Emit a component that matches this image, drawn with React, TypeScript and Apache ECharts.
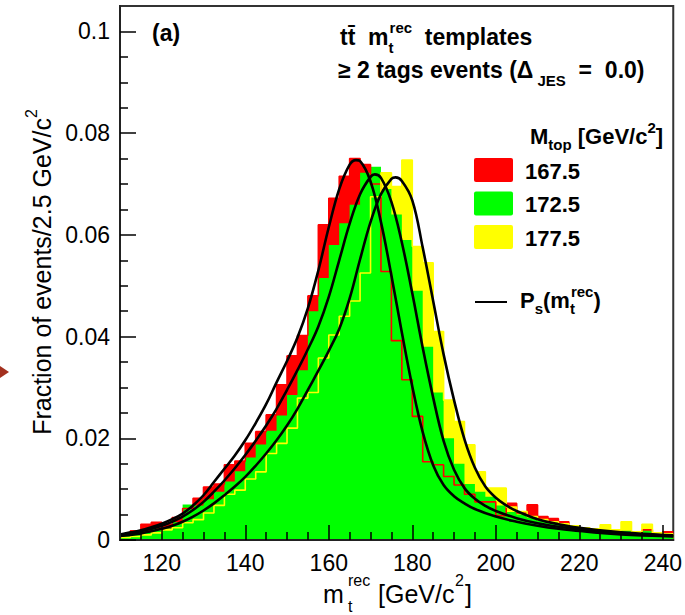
import { useEffect, useRef } from "react";
import * as echarts from "echarts";

// ---- data ----
const BIN_START = 110; // GeV/c^2, left edge of first bin
const BIN_WIDTH = 2.5; // GeV/c^2

// histogram bin contents (fraction of events per 2.5 GeV/c^2), bins from 110 to 242.5
const histRed167 = [
  0.0012, 0.0018, 0.0031, 0.0035, 0.003, 0.0044, 0.0062, 0.0082, 0.0104, 0.011,
  0.0148, 0.0155, 0.019, 0.0213, 0.0246, 0.0305, 0.0362, 0.0402, 0.048, 0.062,
  0.0672, 0.0715, 0.075, 0.0738, 0.07, 0.0528, 0.0392, 0.0315, 0.0243, 0.0154,
  0.0148, 0.0125, 0.0108, 0.009, 0.0075, 0.0075, 0.0048, 0.0072, 0.0053, 0.0069,
  0.0046, 0.0042, 0.0036, 0.002, 0.0022, 0.0018, 0.0015, 0.0014, 0.0012, 0.001,
  0.002, 0.0008, 0.0016,
];
const histGreen172 = [
  0.001, 0.0012, 0.0016, 0.0022, 0.0023, 0.0035, 0.007, 0.0068, 0.008, 0.0095,
  0.0115, 0.0135, 0.0162, 0.0188, 0.0215, 0.0245, 0.0285, 0.0334, 0.045, 0.0515,
  0.058, 0.0623, 0.0659, 0.0722, 0.0734, 0.069, 0.064, 0.059, 0.049, 0.038,
  0.029, 0.02, 0.015, 0.011, 0.0095, 0.0085, 0.0068, 0.0055, 0.005, 0.0045,
  0.0038, 0.0034, 0.003, 0.0026, 0.0022, 0.002, 0.0017, 0.0015, 0.0018, 0.0014,
  0.002, 0.0012, 0.001,
];
const histYellow177 = [
  0.0005, 0.0007, 0.001, 0.0014, 0.002, 0.0024, 0.0034, 0.004, 0.0053, 0.0068,
  0.009, 0.0098, 0.012, 0.0134, 0.017, 0.019, 0.022, 0.0279, 0.029, 0.0358,
  0.0403, 0.044, 0.047, 0.0525, 0.0675, 0.0722, 0.0695, 0.0747, 0.0577, 0.0545,
  0.041, 0.0275, 0.0233, 0.0187, 0.0134, 0.0102, 0.0102, 0.0065, 0.0056, 0.0046,
  0.004, 0.0036, 0.0032, 0.0028, 0.0024, 0.0022, 0.003, 0.002, 0.0036, 0.0016,
  0.0031, 0.0014, 0.0012,
];

// fitted signal probability densities P_s(m_t^rec)
const fitRed167: [number, number][] = [
  [110, 0.0011], [112.5, 0.0015], [115, 0.0019], [117.5, 0.0025], [120, 0.0032],
  [122.5, 0.0041], [125, 0.0052], [127.5, 0.0068], [130, 0.0088], [132.5, 0.0114],
  [135, 0.014], [137.5, 0.0166], [140, 0.0196], [142.5, 0.023], [145, 0.0267],
  [147.5, 0.031], [150, 0.0352], [152.5, 0.0398], [155, 0.0456], [157.5, 0.053],
  [160, 0.0615], [162.5, 0.069], [165, 0.0738], [166.5, 0.0747], [167.5, 0.0745],
  [170, 0.0705], [172.5, 0.0625], [175, 0.052], [177.5, 0.0408], [180, 0.0302],
  [182.5, 0.0212], [185, 0.0147], [187.5, 0.0108], [190, 0.0086], [192.5, 0.0072],
  [195, 0.0061], [200, 0.0046], [205, 0.0036], [210, 0.0028], [215, 0.0022],
  [220, 0.0018], [225, 0.0014], [230, 0.0011], [235, 0.0009], [242.5, 0.0007],
];
const fitGreen172: [number, number][] = [
  [110, 0.001], [112.5, 0.0013], [115, 0.0017], [117.5, 0.0022], [120, 0.0028],
  [122.5, 0.0036], [125, 0.0046], [127.5, 0.0059], [130, 0.0075], [132.5, 0.0095],
  [135, 0.0117], [137.5, 0.0141], [140, 0.0167], [142.5, 0.0195], [145, 0.0225],
  [147.5, 0.0258], [150, 0.0295], [152.5, 0.0334], [155, 0.0375], [157.5, 0.042],
  [160, 0.0478], [162.5, 0.055], [165, 0.0622], [167.5, 0.068], [170, 0.0714],
  [171, 0.0719], [172.5, 0.0712], [175, 0.0665], [177.5, 0.0585], [180, 0.0485],
  [182.5, 0.0378], [185, 0.028], [187.5, 0.0195], [190, 0.0138], [192.5, 0.0102],
  [195, 0.0081], [197.5, 0.0067], [200, 0.0057], [205, 0.0043], [210, 0.0033],
  [215, 0.0026], [220, 0.0021], [225, 0.0017], [230, 0.0013], [235, 0.0011],
  [242.5, 0.0008],
];
const fitYellow177: [number, number][] = [
  [110, 0.0008], [112.5, 0.001], [115, 0.0013], [117.5, 0.0017], [120, 0.0022],
  [122.5, 0.0028], [125, 0.0036], [127.5, 0.0046], [130, 0.0058], [132.5, 0.0072],
  [135, 0.0088], [137.5, 0.0105], [140, 0.0124], [142.5, 0.0146], [145, 0.017],
  [147.5, 0.0196], [150, 0.0225], [152.5, 0.0258], [155, 0.0295], [157.5, 0.0333],
  [160, 0.0372], [162.5, 0.0415], [165, 0.0475], [167.5, 0.0552], [170, 0.0625],
  [172.5, 0.068], [175, 0.071], [176, 0.0713], [177.5, 0.0706], [180, 0.0668],
  [182.5, 0.0575], [185, 0.047], [187.5, 0.0365], [190, 0.0275], [192.5, 0.0198],
  [195, 0.0142], [197.5, 0.0105], [200, 0.0083], [202.5, 0.0068], [205, 0.0057],
  [210, 0.0041], [215, 0.0031], [220, 0.0024], [225, 0.0019], [230, 0.0015],
  [235, 0.0012], [242.5, 0.0009],
];

const xMajorTicks = [120, 140, 160, 180, 200, 220, 240];
const xMinorTicks = [
  115, 125, 130, 135, 145, 150, 155, 165, 170, 175, 185, 190, 195, 205, 210, 215,
  225, 230, 235,
];
const yMajorTicks = [0, 0.02, 0.04, 0.06, 0.08, 0.1];
const yMinorTicks = [
  0.005, 0.01, 0.015, 0.025, 0.03, 0.035, 0.045, 0.05, 0.055, 0.065, 0.07, 0.075,
  0.085, 0.09, 0.095,
];
const massLabels = ["167.5", "172.5", "177.5"];
const massColors = ["#ff0000", "#00ff00", "#ffff00"];

const FONT = '"Liberation Sans", Arial, Helvetica, sans-serif';

function stepData(values: number[]) {
  const pts: number[][] = values.map((v, i) => [BIN_START + i * BIN_WIDTH, v]);
  pts.push([BIN_START + values.length * BIN_WIDTH, values[values.length - 1]]);
  return pts;
}

function richStyles(size: number, weight: string, ratio = 0.66, gap = 10) {
  const base = { fontFamily: FONT, fontWeight: weight, color: "#000" };
  const small = Math.round(size * ratio);
  return {
    n: { ...base, fontSize: size, lineHeight: size + gap },
    sup: { ...base, fontSize: small, lineHeight: small, verticalAlign: "top" },
    sub: { ...base, fontSize: small, lineHeight: small, verticalAlign: "bottom" },
    subw: { ...base, fontSize: small, lineHeight: small, verticalAlign: "bottom", width: 1 },
  };
}

function plainText(text: string, x: number, y: number, size: number, weight = "normal") {
  return {
    type: "text",
    x,
    y,
    style: {
      text,
      font: `${weight} ${size}px ${FONT}`,
      fill: "#000",
      verticalAlign: "middle",
    },
  };
}

export default function App() {
  const ref = useRef<HTMLDivElement>(null);

  useEffect(() => {
    if (!ref.current) return;
    const chart = echarts.init(ref.current, null, { renderer: "svg" });

    const fillSeries = (name: string, values: number[], color: string, z: number) => ({
      type: "line",
      name,
      data: stepData(values),
      step: "end",
      symbol: "none",
      silent: true,
      lineStyle: { width: 0, opacity: 0 },
      areaStyle: { color, opacity: 1 },
      z,
    });
    const outlineSeries = (name: string, values: number[], color: string, z: number) => ({
      type: "line",
      name,
      data: stepData(values),
      step: "end",
      symbol: "none",
      silent: true,
      lineStyle: { width: 1.6, color },
      z,
    });
    const curveSeries = (name: string, data: [number, number][]) => ({
      type: "line",
      name,
      data,
      smooth: 0.4,
      symbol: "none",
      silent: true,
      lineStyle: { width: 2.6, color: "#000" },
      z: 8,
    });

    const boldTitle = richStyles(23, "bold", 0.66, 12);
    const boldLegend = richStyles(22, "bold", 0.68, 10);
    const regular = richStyles(25, "normal", 0.64, 12);

    const axisLabelBase = { fontFamily: FONT, fontSize: 23, color: "#000" };

    chart.setOption({
      animation: false,
      backgroundColor: "#fff",
      grid: {
        left: 120,
        right: 11,
        top: 6,
        bottom: 75,
        show: true,
        borderColor: "#333",
        borderWidth: 2,
        backgroundColor: "#fff",
      },
      xAxis: [
        {
          type: "value",
          min: 110,
          max: 242.5,
          position: "bottom",
          z: 10,
          axisLine: { show: true, lineStyle: { color: "#222", width: 2 } },
          axisTick: {
            show: true,
            inside: true,
            length: 15,
            customValues: xMajorTicks,
            lineStyle: { color: "#000", width: 1.5 },
          },
          axisLabel: { ...axisLabelBase, customValues: xMajorTicks, margin: 11 },
          splitLine: { show: false },
        },
        {
          type: "value",
          min: 110,
          max: 242.5,
          position: "bottom",
          offset: 0,
          z: 10,
          axisLine: { show: false },
          axisTick: {
            show: true,
            inside: true,
            length: 8,
            customValues: xMinorTicks,
            lineStyle: { color: "#000", width: 1.5 },
          },
          axisLabel: { show: false },
          splitLine: { show: false },
        },
      ],
      yAxis: [
        {
          type: "value",
          min: 0,
          max: 0.105,
          position: "left",
          z: 10,
          axisLine: { show: true, lineStyle: { color: "#222", width: 2 } },
          axisTick: {
            show: true,
            inside: true,
            length: 16,
            customValues: yMajorTicks,
            lineStyle: { color: "#000", width: 1.5 },
          },
          axisLabel: {
            ...axisLabelBase,
            customValues: yMajorTicks,
            margin: 10,
            formatter: (v: number) => (v === 0 ? "0" : String(+v.toFixed(3))),
          },
          splitLine: { show: false },
        },
        {
          type: "value",
          min: 0,
          max: 0.105,
          position: "left",
          offset: 0,
          z: 10,
          axisLine: { show: false },
          axisTick: {
            show: true,
            inside: true,
            length: 8,
            customValues: yMinorTicks,
            lineStyle: { color: "#000", width: 1.5 },
          },
          axisLabel: { show: false },
          splitLine: { show: false },
        },
      ],
      series: [
        fillSeries("167.5 fill", histRed167, massColors[0], 2),
        fillSeries("177.5 fill", histYellow177, massColors[2], 3),
        fillSeries("172.5 fill", histGreen172, massColors[1], 4),
        outlineSeries("167.5 outline", histRed167, massColors[0], 5),
        outlineSeries("177.5 outline", histYellow177, massColors[2], 6),
        curveSeries("Ps 167.5", fitRed167),
        curveSeries("Ps 172.5", fitGreen172),
        curveSeries("Ps 177.5", fitYellow177),
      ],
      graphic: [
        {
          type: "polygon",
          shape: { points: [[0, 366], [9, 372], [0, 378]] },
          style: { fill: "#a3301f" },
        },
        plainText("(a)", 152, 33, 23, "bold"),
        {
          type: "text",
          x: 340,
          y: 37,
          style: {
            text: "{n|tt\u0304  m}{subw|t}{sup|rec}{n|  templates}",
            rich: boldTitle,
            verticalAlign: "middle",
          },
        },
        {
          type: "text",
          x: 338,
          y: 70,
          style: {
            text: "{n|\u2265 2 tags events (\u0394}{sub| JES}{n|  =  0.0)}",
            rich: boldTitle,
            verticalAlign: "middle",
          },
        },
        {
          type: "text",
          x: 530,
          y: 136,
          style: {
            text: "{n|M}{sub|top}{n| [GeV/c}{sup|2}{n|]}",
            rich: boldLegend,
            verticalAlign: "middle",
          },
        },
        ...massLabels.map((lab, i) => ({
          type: "rect",
          shape: { x: 474, y: 158 + i * 33.5, width: 39, height: 24, r: 2 },
          style: { fill: massColors[i] },
        })),
        ...massLabels.map((lab, i) => plainText(lab, 525, 171 + i * 33.5, 22, "bold")),
        {
          type: "line",
          shape: { x1: 475, y1: 302, x2: 507, y2: 302 },
          style: { stroke: "#000", lineWidth: 2 },
        },
        {
          type: "text",
          x: 520,
          y: 300,
          style: {
            text: "{n|P}{sub|s}{n|(m}{subw|t}{sup|rec}{n|)}",
            rich: boldLegend,
            verticalAlign: "middle",
          },
        },
        // x-axis title: m_t^rec [GeV/c^2], composed piece by piece
        plainText("m", 323, 594, 25),
        plainText("t", 348, 606, 16),
        plainText("rec", 348, 580, 16),
        plainText("[GeV/c", 378, 594, 25),
        plainText("2", 455, 580, 16),
        plainText("]", 465, 594, 25),
        {
          type: "text",
          x: 42,
          y: 272,
          rotation: Math.PI / 2,
          style: {
            text: "{n|Fraction of events/2.5 GeV/c}{sup|2}",
            rich: regular,
            align: "center",
            verticalAlign: "middle",
          },
        },
      ],
    });

    return () => chart.dispose();
  }, []);

  return (
    <div
      ref={ref}
      style={{ position: "fixed", left: 0, top: 0, width: 685, height: 615, background: "#fff" }}
    />
  );
}
